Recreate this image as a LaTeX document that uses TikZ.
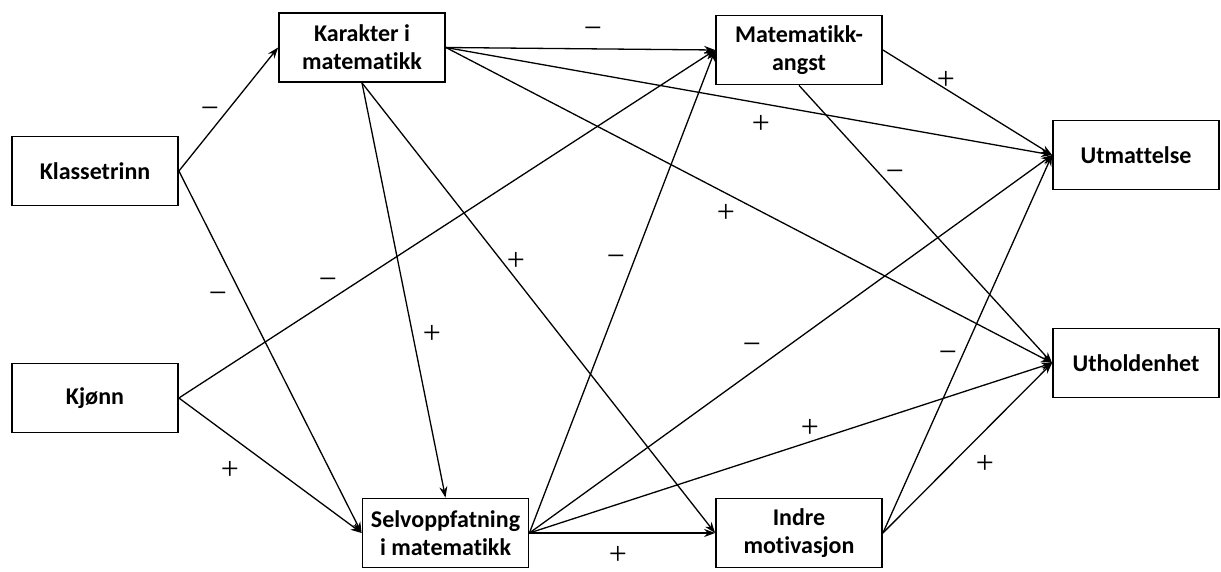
\documentclass[tikz,border=0pt]{standalone}
\usepackage{fontspec}
\setmainfont{Carlito}[Ligatures={NoCommon}]
\newfontfamily\signfont{Liberation Serif}
\usetikzlibrary{arrows.meta}
\begin{document}
\begin{tikzpicture}[x=1pt,y=-1pt,
  box/.style={draw,line width=1.8pt,minimum width=166pt,minimum height=69pt,inner sep=0pt,align=center,font=\fontsize{24}{28}\selectfont\bfseries},
  conn/.style={line width=1.3pt,-{Stealth[length=11pt,width=8pt]}},
  sign/.style={inner sep=0pt,font=\signfont\fontsize{32}{34}\selectfont}]
\useasboundingbox (0,0) rectangle (1221,572);
\node[box] (klasse) at (95,171) {Klassetrinn};
\node[box] (kjonn) at (95,398) {Kjønn};
\node[box] (karakter) at (362,47.5) {Karakter i\\matematikk};
\node[box] (angst) at (799,50) {Matematikk-\\angst};
\node[box] (selv) at (445.5,533) {Selvoppfatning\\i matematikk};
\node[box] (indre) at (799,533) {Indre\\motivasjon};
\node[box] (utmatt) at (1136,155) {Utmattelse};
\node[box] (uthold) at (1136,363) {Utholdenhet};

\draw[conn] (klasse.east) -- (karakter.west);
\draw[conn] (klasse.east) -- (selv.west);
\draw[conn] (kjonn.east) -- (angst.west);
\draw[conn] (kjonn.east) -- (selv.west);
\draw[conn] (karakter.east) -- (angst.west);
\draw[conn] (karakter.east) -- (utmatt.west);
\draw[conn] (karakter.east) -- (uthold.west);
\draw[conn] (karakter.south) -- (selv.north);
\draw[conn] (karakter.south) -- (indre.west);
\draw[conn] (selv.east) -- (angst.west);
\draw[conn] (selv.east) -- (utmatt.west);
\draw[conn] (selv.east) -- (uthold.west);
\draw[conn] (selv.east) -- (indre.west);
\draw[conn] (angst.east) -- (utmatt.west);
\draw[conn] (angst.south) -- (uthold.west);
\draw[conn] (indre.east) -- (utmatt.west);
\draw[conn] (indre.east) -- (uthold.west);

\node[sign] (l1) at (210,113) {−};
\node[sign] (l2) at (218,298) {−};
\node[sign] (l3) at (328,284) {−};
\node[sign] (l4) at (230,470) {+};
\node[sign] (l5) at (593,33) {−};
\node[sign] (l6) at (761,124) {+};
\node[sign] (l7) at (726,213) {+};
\node[sign] (l8) at (432,334) {+};
\node[sign] (l9) at (516,261) {+};
\node[sign] (l10) at (616,261) {−};
\node[sign] (l11) at (752,349) {−};
\node[sign] (l12) at (810,428) {+};
\node[sign] (l13) at (618,555) {+};
\node[sign] (l14) at (946,80) {+};
\node[sign] (l15) at (895,176) {−};
\node[sign] (l16) at (948,357) {−};
\node[sign] (l17) at (985,464) {+};
\end{tikzpicture}
\end{document}
